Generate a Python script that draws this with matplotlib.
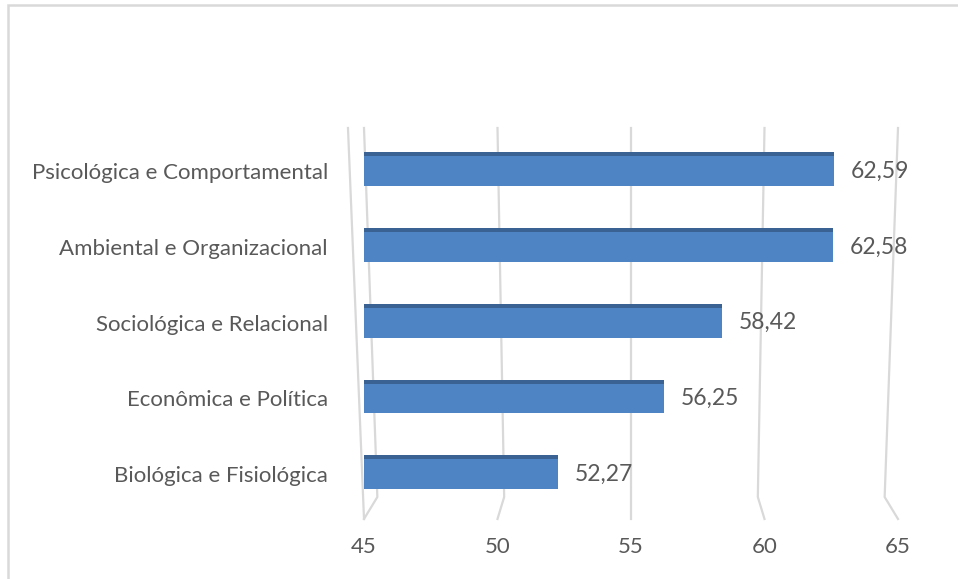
import matplotlib.pyplot as plt
from matplotlib.patches import Rectangle

categories = ["Biológica e Fisiológica", "Econômica e Política", "Sociológica e Relacional",
              "Ambiental e Organizacional", "Psicológica e Comportamental"]
values = [52.27, 56.25, 58.42, 62.58, 62.59]
ticks = [45, 50, 55, 60, 65]

plt.rcParams['font.family'] = ['Lato', 'DejaVu Sans']
TXT = "#595959"
GRID = "#D9D9D9"
FRONT = "#4F84C4"
TOP = "#3A6394"

W, H = 958, 579
fig = plt.figure(figsize=(W / 100, H / 100), dpi=100)

# axes box in pixels: x 364..898, y 128..497
ax = fig.add_axes([364 / W, (H - 497) / H, (898 - 364) / W, (497 - 128) / H])
ax.set_xlim(45, 65)
ax.set_ylim(-0.30, 4.57)
for s in ax.spines.values():
    s.set_visible(False)

# gridlines with a little perspective kink at the floor
for v in ticks:
    mid = 55 + (v - 55) * 0.95
    ax.plot([v, mid, v], [4.57, -0.30, -0.59], color=GRID, lw=1.6,
            clip_on=False, zorder=0)
ax.plot([44.4, 45], [4.57, -0.59], color=GRID, lw=1.6, clip_on=False, zorder=0)

pos = list(range(len(categories)))
h = 0.39
t = 0.055
ax.barh(pos, [v - 45 for v in values], left=45, height=h, color=FRONT, zorder=3)
ax.barh([p + h / 2 + t / 2 for p in pos], [v - 45 for v in values], left=45,
        height=t, color=TOP, zorder=3)

for p, v in zip(pos, values):
    ax.annotate(f"{v:.2f}".replace(".", ","), (v, p), xytext=(12, 0),
                textcoords="offset points", va="center", ha="left",
                fontsize=16.5, color=TXT)

ax.set_yticks(pos)
ax.set_yticklabels(categories, fontsize=16, color=TXT)
ax.tick_params(axis="y", length=0, pad=26)
ax.set_xticks(ticks)
ax.set_xticklabels([str(v) for v in ticks], fontsize=16, color=TXT)
ax.tick_params(axis="x", length=0, pad=29)

fig.patches.append(Rectangle((8 / W, -0.01), 1.02, (H - 5) / H + 0.01,
                             transform=fig.transFigure, fill=False,
                             edgecolor=GRID, lw=1.8))

fig.savefig("out.png", dpi=100)
